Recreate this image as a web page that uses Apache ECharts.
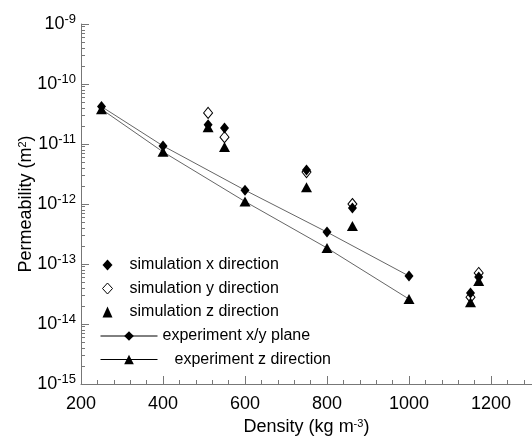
<!DOCTYPE html>
<html>
<head>
<meta charset="utf-8">
<script src="https://cdn.jsdelivr.net/npm/echarts@6/dist/echarts.min.js"></script>
<style>html,body{margin:0;padding:0;background:#fff}#c{width:532px;height:442px}</style>
</head>
<body>
<div id="c"></div>
<script>
// ---- data ----
const simX = [[510, 2.1e-11], [550, 1.85e-11], [750, 3.7e-12], [862, 8.6e-13], [1150, 3.3e-14], [1170, 6.1e-14]];
const simY = [[510, 3.3e-11], [550, 1.3e-11], [750, 3.4e-12], [862, 1.0e-12], [1150, 2.8e-14], [1170, 7.1e-14]];
const simZ = [[510, 1.9e-11], [550, 8.9e-12], [750, 1.9e-12], [862, 4.3e-13], [1150, 2.3e-14], [1170, 5.2e-14]];
const expXY = [[250, 4.2e-11], [400, 9.3e-12], [600, 1.7e-12], [800, 3.4e-13], [1000, 6.3e-14]];
const expZ = [[250, 3.8e-11], [400, 7.4e-12], [600, 1.1e-12], [800, 1.85e-13], [1000, 2.6e-14]];
const xTicks = [200, 400, 600, 800, 1000, 1200];
const xMinorTicks = [240, 280, 320, 360, 440, 480, 520, 560, 640, 680, 720, 760, 840, 880, 920, 960, 1040, 1080, 1120, 1160, 1240, 1280];
const yTicks = [1e-15, 1e-14, 1e-13, 1e-12, 1e-11, 1e-10, 1e-9];
const yMinorMultipliers = [2, 3, 4, 5, 6, 7, 8, 9];
const names = ['simulation x direction', 'simulation y direction', 'simulation z direction', 'experiment x/y plane', 'experiment z direction'];

const yMinorLog = [];
for (let d = -15; d < -9; d++) yMinorMultipliers.forEach(m => yMinorLog.push(d + Math.log10(m)));

const FONT = 'Liberation Sans, Arial, sans-serif';
const AX = '#777';
const legendText = { fontSize: 16, color: '#000', lineHeight: 16, fontFamily: FONT };
const DIA = [9, 11], TRI = [11, 10];

const chart = echarts.init(document.getElementById('c'));
chart.setOption({
  animation: false,
  backgroundColor: '#fff',
  textStyle: { fontFamily: FONT },
  grid: { left: 81, right: 0, top: 24, bottom: 58 },
  xAxis: [{
    type: 'value', min: 200, max: 1300, position: 'bottom',
    name: '{n|Density (kg m}{s|-3}{n|)}', nameLocation: 'middle', nameGap: 34, nameMoveOverlap: false,
    nameTextStyle: { rich: { n: { fontSize: 18, color: '#000', fontFamily: FONT }, s: { fontSize: 11, color: '#000', fontFamily: FONT, verticalAlign: 'top', padding: [0, 0, 8, 0] } } },
    axisLine: { lineStyle: { color: AX, width: 1 } },
    axisTick: { inside: true, length: 8, lineStyle: { color: AX }, customValues: xTicks },
    axisLabel: { customValues: xTicks, fontSize: 18, color: '#000', margin: 11, fontFamily: FONT, formatter: v => String(v) },
    splitLine: { show: false }
  }, {
    type: 'value', min: 200, max: 1300, position: 'bottom', offset: 0,
    axisLine: { show: false },
    axisTick: { inside: true, length: 4, lineStyle: { color: AX }, customValues: xMinorTicks },
    axisLabel: { show: false },
    splitLine: { show: false }
  }],
  yAxis: [{
    type: 'log', logBase: 10, min: 1e-15, max: 1e-9, position: 'left',
    name: '{n|Permeability (m}{s|2}{n|)}', nameLocation: 'middle', nameGap: 45, nameRotate: 90, nameMoveOverlap: false,
    nameTextStyle: { rich: { n: { fontSize: 18, color: '#000', fontFamily: FONT }, s: { fontSize: 11, color: '#000', fontFamily: FONT, verticalAlign: 'top', padding: [0, 0, 8, 0] } } },
    axisLine: { show: true, lineStyle: { color: AX, width: 1 } },
    axisTick: { show: true, inside: true, length: 8, lineStyle: { color: AX }, customValues: yTicks },
    axisLabel: {
      customValues: yTicks, margin: 5,
      formatter: v => '{b|10}{s|' + Math.round(Math.log10(v)) + '}',
      rich: {
        b: { fontSize: 18, color: '#000', fontFamily: FONT },
        s: { fontSize: 13, color: '#000', fontFamily: FONT, verticalAlign: 'top', padding: [0, 0, 9, 0] }
      }
    },
    splitLine: { show: false }
  }, {
    type: 'value', min: -15, max: -9, position: 'left', offset: 0,
    axisLine: { show: false },
    axisTick: { show: true, inside: true, length: 4, lineStyle: { color: AX }, customValues: yMinorLog },
    axisLabel: { show: false },
    splitLine: { show: false }
  }],
  legend: [{
    orient: 'vertical', left: 102, top: 257, padding: 0, itemWidth: 10, itemHeight: 11, itemGap: 7.5,
    data: [
      { name: names[0], itemStyle: { color: '#000', opacity: 1 } },
      { name: names[1], itemStyle: { color: '#fff', borderColor: '#000', borderWidth: 1, opacity: 1 } },
      { name: names[2], itemStyle: { color: '#000', opacity: 1 } }
    ],
    textStyle: Object.assign({ padding: [0, 0, 0, 12] }, legendText),
    selectedMode: false
  }, {
    orient: 'vertical', left: 100, top: 328, padding: 0, itemWidth: 57, itemHeight: 12,
    data: [{ name: names[3] }],
    lineStyle: { color: '#000', width: 1 },
    textStyle: legendText,
    selectedMode: false
  }, {
    orient: 'vertical', left: 100, top: 351.5, padding: 0, itemWidth: 57, itemHeight: 12,
    data: [{ name: names[4] }],
    lineStyle: { color: '#000', width: 1 },
    textStyle: Object.assign({ padding: [0, 0, 0, 12] }, legendText),
    selectedMode: false
  }],
  series: [
    { name: names[3], type: 'line', data: expXY, symbol: 'diamond', symbolSize: DIA,
      lineStyle: { color: '#666', width: 1 }, itemStyle: { color: '#000', opacity: 1 }, xAxisIndex: 0, yAxisIndex: 0, z: 2 },
    { name: names[4], type: 'line', data: expZ, symbol: 'triangle', symbolSize: TRI,
      lineStyle: { color: '#666', width: 1 }, itemStyle: { color: '#000', opacity: 1 }, xAxisIndex: 0, yAxisIndex: 0, z: 2 },
    { name: names[1], type: 'scatter', data: simY, symbol: 'diamond', symbolSize: DIA,
      itemStyle: { color: '#fff', borderColor: '#000', borderWidth: 1, opacity: 1 }, xAxisIndex: 0, yAxisIndex: 0, z: 3 },
    { name: names[0], type: 'scatter', data: simX, symbol: 'diamond', symbolSize: DIA,
      itemStyle: { color: '#000', opacity: 1 }, xAxisIndex: 0, yAxisIndex: 0, z: 4 },
    { name: names[2], type: 'scatter', data: simZ, symbol: 'triangle', symbolSize: TRI,
      itemStyle: { color: '#000', opacity: 1 }, xAxisIndex: 0, yAxisIndex: 0, z: 5 }
  ]
});
</script>
</body>
</html>
